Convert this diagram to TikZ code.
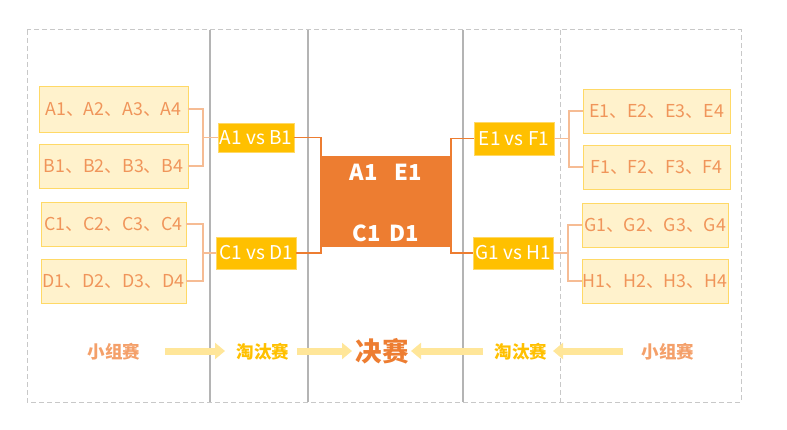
\documentclass[tikz,border=0pt]{standalone}
\usepackage{fontspec}
\setmainfont{Noto Sans CJK SC}
\usetikzlibrary{arrows.meta}
\definecolor{boxfill}{HTML}{FFF2CC}
\definecolor{boxline}{HTML}{FFD966}
\definecolor{boxtext}{HTML}{F0955A}
\definecolor{gold}{HTML}{FFC000}
\definecolor{deeporange}{HTML}{ED7D31}
\definecolor{lightline}{HTML}{F6BC94}
\definecolor{arrowfill}{HTML}{FFE699}
\definecolor{grouptext}{HTML}{F4A06A}
\definecolor{frame}{HTML}{C8C8C8}
\tikzset{
  grp/.style={draw=boxline, fill=boxfill, line width=0.8pt, text=boxtext, font=\fontsize{17.8}{20}\selectfont, inner sep=0pt},
  vsbox/.style={fill=gold, draw=gold!60!white, line width=0.6pt, text=white, font=\fontsize{19}{21}\selectfont, inner sep=0pt},
  conn/.style={draw=lightline, line width=1.1pt},
  mainconn/.style={draw=deeporange, line width=1.1pt},
  flow/.style={draw=arrowfill, line width=7pt, -{Triangle[width=16pt,length=10pt]}},
  stage/.style={font=\bfseries\fontsize{17.5}{19}\selectfont},
}
\begin{document}
\begin{tikzpicture}[x=1pt,y=-1pt]
\useasboundingbox (0,0) rectangle (787,430);
% frame
\draw[frame, line width=1pt, dash pattern=on 5pt off 3pt] (27,30) rectangle (741,402);
\draw[frame!90!black, line width=1.3pt] (210,30) -- (210,402);
\draw[frame!90!black, line width=1.3pt] (308,30) -- (308,402);
\draw[frame!90!black, line width=1.3pt] (463,30) -- (463,402);
\draw[frame, line width=1pt, dash pattern=on 5pt off 3pt] (560,30) -- (560,402);

% left groups
\node[grp, minimum width=149pt, minimum height=46pt] (A) at (113.5,109) {A1、A2、A3、A4};
\node[grp, minimum width=149pt, minimum height=44pt] (B) at (113.5,166) {B1、B2、B3、B4};
\node[grp, minimum width=145pt, minimum height=44pt] (C) at (113.5,224) {C1、C2、C3、C4};
\node[grp, minimum width=145pt, minimum height=44pt] (D) at (113.5,281) {D1、D2、D3、D4};
% right groups
\node[grp, minimum width=147pt, minimum height=44pt] (E) at (656.5,111) {E1、E2、E3、E4};
\node[grp, minimum width=147pt, minimum height=44pt] (F) at (656.5,167) {F1、F2、F3、F4};
\node[grp, minimum width=146pt, minimum height=44pt] (G) at (655,225) {G1、G2、G3、G4};
\node[grp, minimum width=146pt, minimum height=44pt] (H) at (655,281) {H1、H2、H3、H4};

% vs boxes
\node[vsbox, minimum width=76pt, minimum height=29pt] (AB) at (256,137.5) {A1 vs B1};
\node[vsbox, minimum width=80pt, minimum height=32pt] (CD) at (256,253) {C1 vs D1};
\node[vsbox, minimum width=80pt, minimum height=33pt] (EF) at (514,138.5) {E1 vs F1};
\node[vsbox, minimum width=80pt, minimum height=32pt] (GH) at (513,253) {G1 vs H1};

% final
\node[fill=deeporange, minimum width=130pt, minimum height=91pt, inner sep=0pt] (FIN) at (386,201.5) {};
\node[text=white, font=\bfseries\fontsize{22}{24}\selectfont] (t1) at (386,172) {A1\hspace{17pt}E1};
\node[text=white, font=\bfseries\fontsize{22}{24}\selectfont] (t2) at (386,233) {C1\hspace{9pt}D1};

% bracket junctions
\coordinate (jAB) at (203,137.5);
\coordinate (jCD) at (203,253);
\coordinate (jEF) at (569,138.5);
\coordinate (jGH) at (568,253);
\coordinate (jL) at (321,137.5);
\coordinate (jR) at (451,138.5);

\draw[conn] (A.east) -| (jAB) |- (B.east);
\draw[conn] (jAB) -- (AB.west);
\draw[conn] (C.east) -| (jCD) |- (D.east);
\draw[conn] (jCD) -- (CD.west);
\draw[conn] (E.west) -| (jEF) |- (F.west);
\draw[conn] (jEF) -- (EF.east);
\draw[conn] (G.west) -| (jGH) |- (H.west);
\draw[conn] (jGH) -- (GH.east);

\draw[mainconn] (AB.east) -- (jL) |- (CD.east);
\draw[mainconn] (EF.west) -- (jR) |- (GH.west);

% bottom stages
\node[stage, text=grouptext] (s1) at (114,352) {小组赛};
\node[stage, text=gold] (s2) at (263,352) {淘汰赛};
\node[text=deeporange, font=\bfseries\fontsize{26.5}{28}\selectfont] (s3) at (382,351) {决赛};
\node[stage, text=gold] (s4) at (521,352) {淘汰赛};
\node[stage, text=grouptext] (s5) at (668,352) {小组赛};

\coordinate (f1a) at (165,351); \coordinate (f1b) at (225,351);
\coordinate (f2a) at (297,351); \coordinate (f2b) at (352,351);
\coordinate (f3a) at (483,351); \coordinate (f3b) at (411,351);
\coordinate (f4a) at (623,351); \coordinate (f4b) at (553,351);
\draw[flow] (f1a) -- (f1b);
\draw[flow] (f2a) -- (f2b);
\draw[flow] (f3a) -- (f3b);
\draw[flow] (f4a) -- (f4b);
\end{tikzpicture}
\end{document}
